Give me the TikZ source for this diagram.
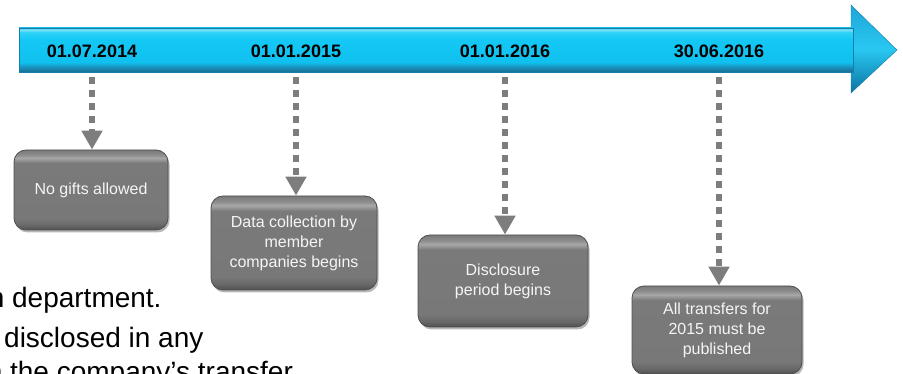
\documentclass[tikz,border=0pt]{standalone}
\usepackage{fontspec}
\setmainfont{Liberation Sans}
\usetikzlibrary{arrows.meta,shadows,positioning}
\definecolor{headtop}{RGB}{30,165,215}
\definecolor{headmid}{RGB}{40,200,242}
\definecolor{headbot}{RGB}{12,115,160}
\definecolor{arrowedge}{RGB}{25,125,170}
\definecolor{boxedge}{RGB}{78,78,78}
\definecolor{conngray}{RGB}{125,125,125}
% colours of the shaft, bottom to top
\definecolor{shafta}{RGB}{22,110,150}
\definecolor{shaftb}{RGB}{26,140,184}
\definecolor{shaftc}{RGB}{16,192,238}
\definecolor{shaftd}{RGB}{20,200,245}
\definecolor{shafte}{RGB}{45,210,248}
\definecolor{shaftf}{RGB}{120,226,248}
\definecolor{shaftg}{RGB}{60,200,238}
% colours of the event boxes, bottom to top
\definecolor{boxa}{RGB}{80,80,80}
\definecolor{boxb}{RGB}{104,104,104}
\definecolor{boxc}{RGB}{120,120,120}
\definecolor{boxd}{RGB}{122,122,122}
\definecolor{boxe}{RGB}{168,168,168}
\definecolor{boxf}{RGB}{140,140,140}
% shadings: the path fills the band 25bp..75bp
\pgfdeclareverticalshading{shaftshade}{100bp}{%
  color(0bp)=(shafta); color(25bp)=(shafta); color(30bp)=(shaftb);
  color(36bp)=(shaftc); color(62bp)=(shaftd); color(70bp)=(shafte);
  color(73bp)=(shaftf); color(75bp)=(shaftg); color(100bp)=(shaftg)}
\pgfdeclareverticalshading{eventshade}{100bp}{%
  color(0bp)=(boxa); color(25bp)=(boxa); color(28bp)=(boxb);
  color(32bp)=(boxc); color(67bp)=(boxd); color(70bp)=(boxe);
  color(72bp)=(boxf); color(75bp)=(boxd); color(100bp)=(boxd)}
\tikzset{
  datelabel/.style = {font=\fontsize{18}{20}\selectfont\bfseries, inner sep=0pt,
                      minimum height=52pt},
  event/.style     = {rectangle, rounded corners=12pt, draw=boxedge, line width=0.8pt,
                      shading=eventshade,
                      text=white!92!gray, align=center, inner sep=0pt,
                      font=\fontsize{16}{20}\selectfont,
                      drop shadow={shadow xshift=1.5pt, shadow yshift=-2.5pt,
                                   opacity=0.4, fill=black!70}},
  conn/.style      = {draw=conngray, line width=6.5pt,
                      dash pattern=on 6.5pt off 6.5pt,
                      -{Triangle[width=20pt,length=19pt]}},
  backtext/.style  = {font=\fontsize{28}{38}\selectfont, anchor=base west,
                      inner sep=0pt}
}

\begin{document}
\begin{tikzpicture}[x=1pt, y=-1pt]
\useasboundingbox (0,0) rectangle (903,374);

% text of the slide behind the timeline
\begin{scope}
\clip (0,0) rectangle (903,374);
\node[backtext] (t1) at (-11.4,308) {n department.};
\node[backtext] (t2) at (4,347) {disclosed in any};
\node[backtext] (t3) at (-13.4,381.5) {n the company’s transfer};
\end{scope}

% the timeline arrow
\path[draw=arrowedge, top color=headtop, bottom color=headbot, middle color=headmid]
  (851,5) -- (897,50) -- (851,93) -- cycle;
\path[draw=arrowedge, shading=shaftshade]
  (19,28) rectangle (853,72);

% dates on the arrow
\node[datelabel] (d1) at (92,51)  {01.07.2014};
\node[datelabel] (d2) at (296,51) {01.01.2015};
\node[datelabel] (d3) at (505,51) {01.01.2016};
\node[datelabel] (d4) at (719,51) {30.06.2016};

% events
\node[event, minimum width=154pt, minimum height=80pt] (b1) at (91,190)
  {No gifts allowed};
\node[event, minimum width=166pt, minimum height=94pt] (b2) at (294,243)
  {Data collection by\\member\\companies begins};
\node[event, minimum width=170pt, minimum height=92pt] (b3) at (503,281)
  {Disclosure\\period begins};
\node[event, minimum width=170pt, minimum height=88pt] (b4) at (717,330)
  {All transfers for\\2015 must be\\published};

% dotted arrows from each date to its event
\foreach \i in {1,...,4}
  \draw[conn] (d\i.south) -- (d\i.south |- b\i.north);
\end{tikzpicture}
\end{document}
